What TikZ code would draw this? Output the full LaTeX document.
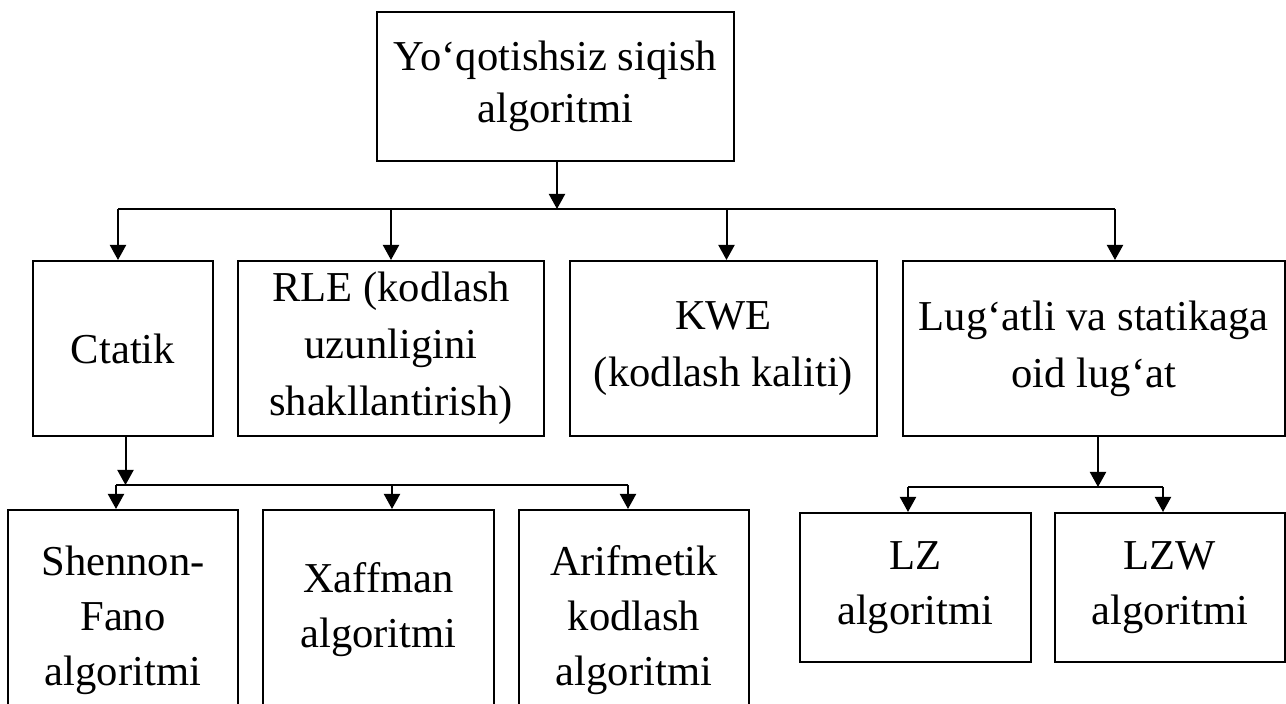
\documentclass[tikz,border=0pt]{standalone}
\usepackage{fontspec}
\setmainfont{Liberation Serif}
\usetikzlibrary{arrows.meta}

\tikzset{
  blok/.style={draw, line width=1pt, inner sep=0pt, align=center,
    font=\fontsize{21.3}{27.5}\selectfont},
  blokB/.style={blok, font=\fontsize{21.3}{28.5}\selectfont},
  strelka/.style={-{Triangle[length=7.5pt,width=8pt]}, line width=1pt},
  liniya/.style={line width=1pt}
}

\begin{document}
\begin{tikzpicture}[x=0.5pt,y=-0.5pt]

\useasboundingbox (0,0) rectangle (1286,704);
\clip (0,0) rectangle (1286,704);

% Bosh blok
\node[blok, font=\fontsize{21.3}{26}\selectfont,
  minimum width=178.5pt, minimum height=74.5pt] (bosh) at (555.5,86.5)
  {Yo‘qotishsiz siqish\\algoritmi};

% Ikkinchi qator
\node[blokB, minimum width=90pt, minimum height=87.5pt] (ctatik) at (123,348.5) {Ctatik};
\node[blokB, minimum width=153pt, minimum height=87.5pt] (rle) at (391,348.5)
  {RLE (kodlash\\uzunligini\\shakllantirish)};
\node[blokB, minimum width=153.5pt, minimum height=87.5pt] (kwe) at (723.5,348.5)
  {KWE\\(kodlash kaliti)};
\node[blokB, minimum width=191.25pt, minimum height=87.5pt] (lugat) at (1093.75,348.5)
  {Lug‘atli va statikaga\\oid lug‘at};

% Uchinchi qator
\node[blok, minimum width=115pt, minimum height=110pt] (shennon) at (123,620)
  {Shennon-\\Fano\\algoritmi};
\node[blok, minimum width=115.5pt, minimum height=110pt, text depth=15pt] (xaffman) at (378.5,620)
  {Xaffman\\algoritmi};
\node[blok, minimum width=115pt, minimum height=110pt] (arif) at (634,620)
  {Arifmetik\\kodlash\\algoritmi};
\node[blok, minimum width=115.25pt, minimum height=74.5pt] (lz) at (915.25,587.5)
  {LZ\\algoritmi};
\node[blok, minimum width=115pt, minimum height=74.5pt] (lzw) at (1170,587.5)
  {LZW\\algoritmi};

% Shinalar
\coordinate (s1) at (557,209);
\coordinate (s1a) at (118,209);
\coordinate (s1b) at (391,209);
\coordinate (s1c) at (726.5,209);
\coordinate (s1d) at (1115,209);

\coordinate (s2) at (125.5,485);
\coordinate (s2a) at (116,485);
\coordinate (s2b) at (392,485);
\coordinate (s2c) at (628,485);

\coordinate (s3) at (1098,487);
\coordinate (s3a) at (908,487);
\coordinate (s3b) at (1163,487);

% Strelkalar
\draw[strelka] (bosh.south -| s1) -- (s1);
\draw[liniya] (s1a) -- (s1d);
\draw[strelka] (s1a) -- (s1a |- ctatik.north);
\draw[strelka] (s1b) -- (s1b |- rle.north);
\draw[strelka] (s1c) -- (s1c |- kwe.north);
\draw[strelka] (s1d) -- (s1d |- lugat.north);

\draw[strelka] (ctatik.south -| s2) -- (s2);
\draw[liniya] (s2a) -- (s2c);
\draw[strelka] (s2a) -- (s2a |- shennon.north);
\draw[strelka] (s2b) -- (s2b |- xaffman.north);
\draw[strelka] (s2c) -- (s2c |- arif.north);

\draw[strelka] (lugat.south -| s3) -- (s3);
\draw[liniya] (s3a) -- (s3b);
\draw[strelka] (s3a) -- (s3a |- lz.north);
\draw[strelka] (s3b) -- (s3b |- lzw.north);

\end{tikzpicture}
\end{document}
